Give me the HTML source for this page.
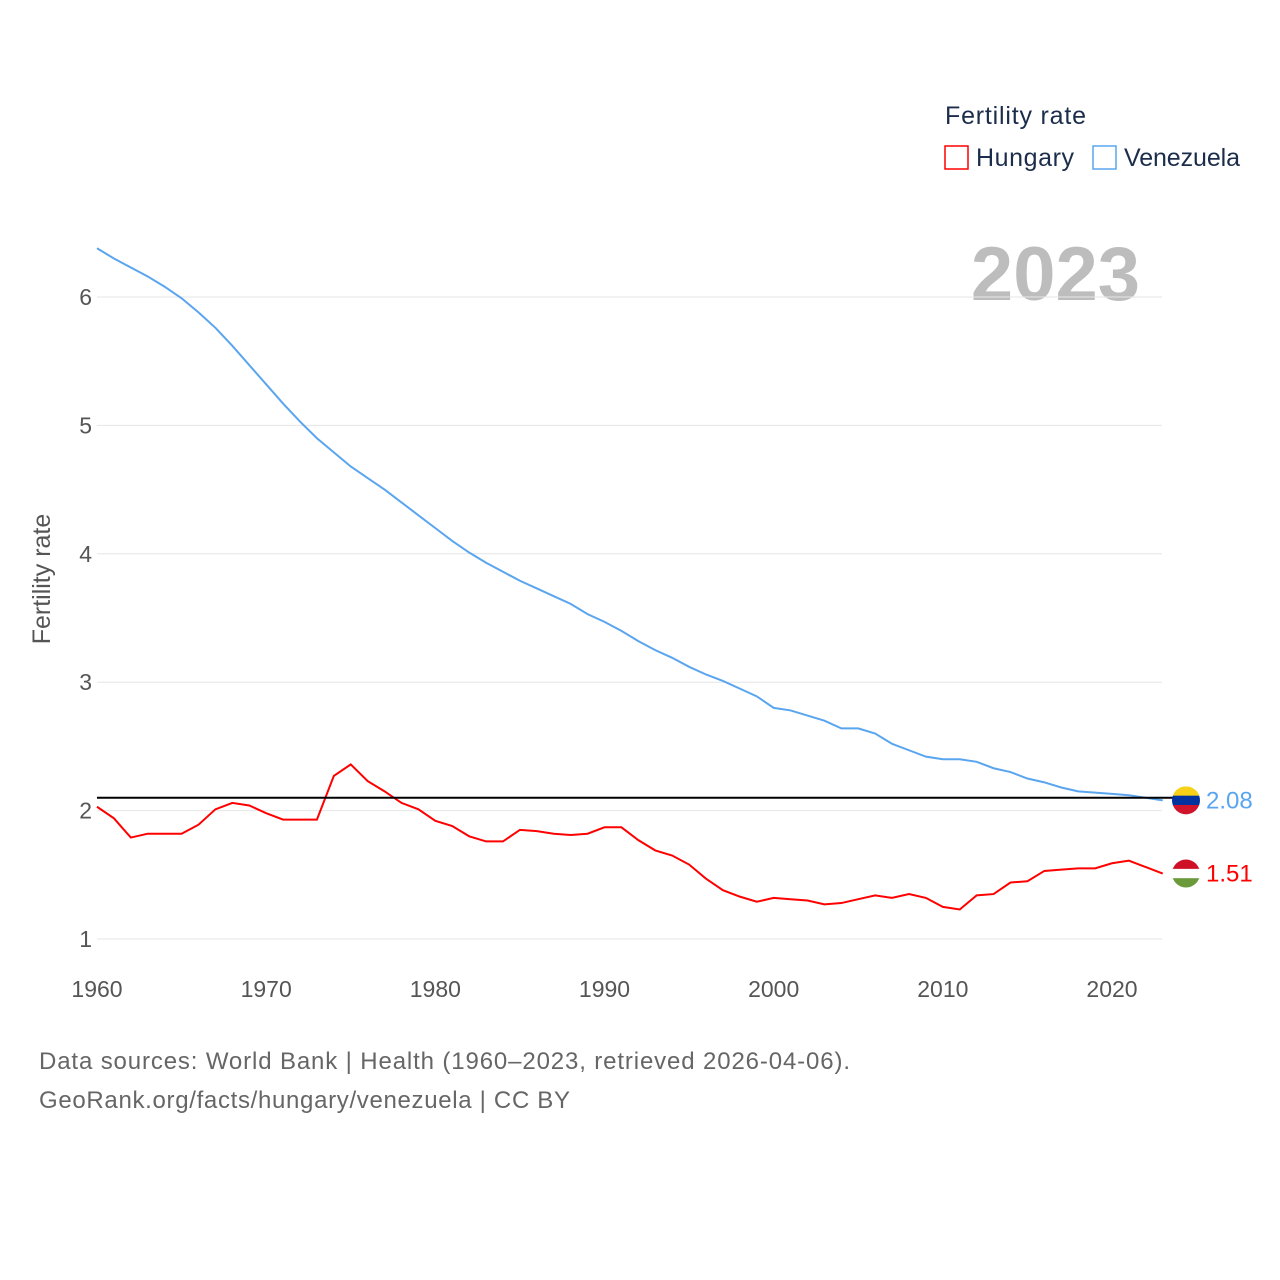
<!DOCTYPE html>
<html><head><meta charset="utf-8">
<style>
body{margin:0;background:#fff;font-family:"Liberation Sans",sans-serif;}
svg{display:block}
</style></head><body>
<svg id="chart" width="1280" height="1280">
<text x="945" y="124" font-size="25" fill="#1b2d4a" textLength="141">Fertility rate</text>
<g><rect x="945" y="146" width="23" height="23" fill="none" stroke="#ff0000" stroke-width="1.5"/><text x="976" y="166" font-size="25" fill="#1b2d4a" textLength="98">Hungary</text></g>
<g><rect x="1093" y="146" width="23" height="23" fill="none" stroke="#5aa5ef" stroke-width="1.5"/><text x="1124" y="166" font-size="25" fill="#1b2d4a" textLength="116">Venezuela</text></g>
<text x="1140" y="300" font-size="76" font-weight="bold" fill="#bdbdbd" text-anchor="end">2023</text>
<text transform="translate(50,579) rotate(-90)" font-size="25" fill="#555" text-anchor="middle">Fertility rate</text>
<g id="grid"></g><g id="yt"></g><g id="xt"></g><g id="lines"></g>
<text x="39" y="1069" font-size="24" fill="#666" textLength="811">Data sources: World Bank | Health (1960–2023, retrieved 2026-04-06).</text>
<text x="39" y="1108" font-size="24" fill="#666" textLength="531">GeoRank.org/facts/hungary/venezuela | CC BY</text>
</svg>
<script>
const years=[];for(let y=1960;y<=2023;y++)years.push(y);
const hungary=[2.03,1.94,1.79,1.82,1.82,1.82,1.89,2.01,2.06,2.04,1.98,1.93,1.93,1.93,2.27,2.36,2.23,2.15,2.06,2.01,1.92,1.88,1.80,1.76,1.76,1.85,1.84,1.82,1.81,1.82,1.87,1.87,1.77,1.69,1.65,1.58,1.47,1.38,1.33,1.29,1.32,1.31,1.30,1.27,1.28,1.31,1.34,1.32,1.35,1.32,1.25,1.23,1.34,1.35,1.44,1.45,1.53,1.54,1.55,1.55,1.59,1.61,1.56,1.51];
const venezuela=[6.38,6.30,6.23,6.16,6.08,5.99,5.88,5.76,5.62,5.47,5.32,5.17,5.03,4.90,4.79,4.68,4.59,4.50,4.40,4.30,4.20,4.10,4.01,3.93,3.86,3.79,3.73,3.67,3.61,3.53,3.47,3.40,3.32,3.25,3.19,3.12,3.06,3.01,2.95,2.89,2.80,2.78,2.74,2.70,2.64,2.64,2.60,2.52,2.47,2.42,2.40,2.40,2.38,2.33,2.30,2.25,2.22,2.18,2.15,2.14,2.13,2.12,2.10,2.08];
const yTicks=[1,2,3,4,5,6];
const xTicks=[1960,1970,1980,1990,2000,2010,2020];
const refLevel=2.1;
const X=y=>97+(y-1960)*(1112-97)/60;
const Y=v=>939-(v-1)*128.4;
const NS="http://www.w3.org/2000/svg";
function mk(t,a,p){const e=document.createElementNS(NS,t);for(const k in a)e.setAttribute(k,a[k]);p.appendChild(e);return e;}
const grid=document.getElementById('grid'),yt=document.getElementById('yt'),xt=document.getElementById('xt'),L=document.getElementById('lines');
yTicks.forEach(v=>{const l=mk('line',{x1:97,x2:1162,y1:Y(v),y2:Y(v),stroke:'#e6e6e6','stroke-width':1},grid);


const t=mk('text',{x:92,y:Y(v)+8,'font-size':23,fill:'#555','text-anchor':'end'},yt);t.textContent=v;

});
xTicks.forEach(v=>{const t=mk('text',{x:X(v),y:997,'font-size':23,fill:'#555','text-anchor':'middle'},xt);t.textContent=v;

});
function line(d,c,n){const p=mk('polyline',{points:d.map((v,i)=>X(years[i])+','+Y(v)).join(' '),fill:'none',stroke:c,'stroke-width':2},L);

}
line(venezuela,'#5aa5ef','venezuela-line');
line(hungary,'#ff0000','hungary-line');
const r=mk('line',{x1:97,x2:1187,y1:Y(refLevel),y2:Y(refLevel),stroke:'#000','stroke-width':2},L);


function flag(v,cols,txt,c,n){const cy=Y(v),cx=1186,g=mk('g',{},L);


const cp=mk('clipPath',{id:n+'c'},g);mk('circle',{cx:cx,cy:cy,r:14},cp);
cols.forEach((col,i)=>mk('rect',{x:cx-14,y:cy-14+i*28/3,width:28,height:28/3+0.5,fill:col,'clip-path':'url(#'+n+'c)'},g));
const t=mk('text',{x:1206,y:cy+8,'font-size':24,fill:c},g);t.textContent=txt;}
flag(venezuela[63],['#f7d117','#0033a0','#cf142b'],venezuela[63].toFixed(2),'#5aa5ef','venezuela-end-label');
flag(hungary[63],['#ce1126','#ffffff','#6a9a3a'],hungary[63].toFixed(2),'#ff0000','hungary-end-label');
</script>
</body></html>
